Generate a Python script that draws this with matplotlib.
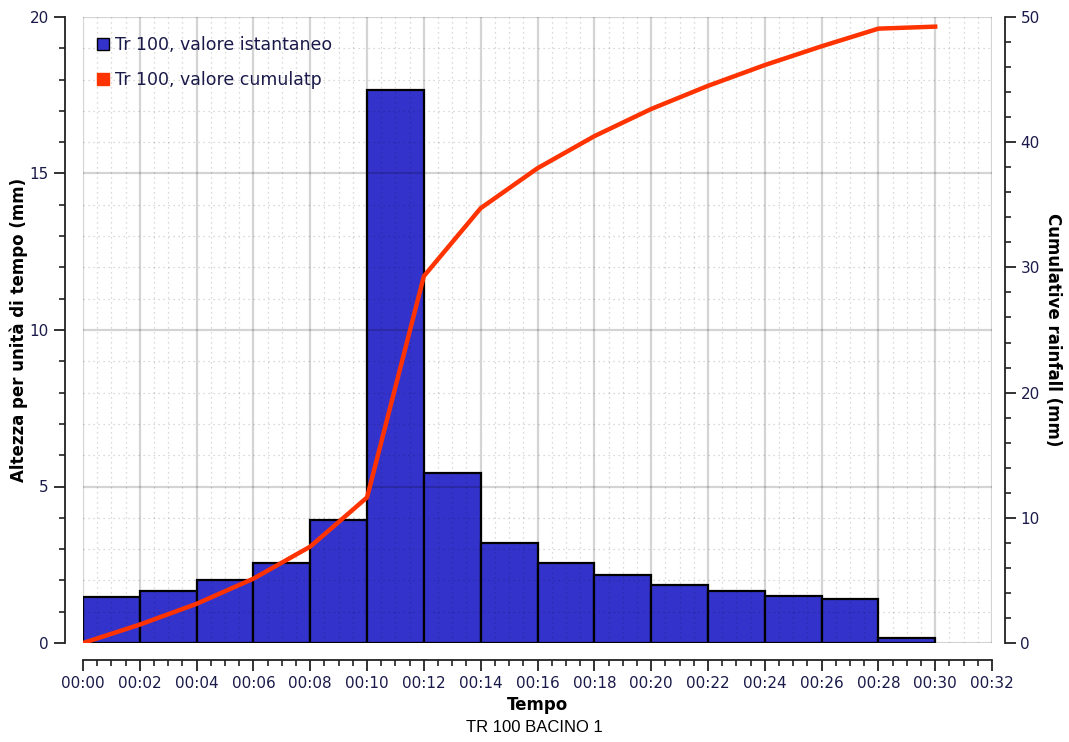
import matplotlib
matplotlib.use("Agg")
import matplotlib.pyplot as plt
from matplotlib.ticker import MultipleLocator, FuncFormatter
from matplotlib.lines import Line2D

# --- data ---
bar_starts = [0, 2, 4, 6, 8, 10, 12, 14, 16, 18, 20, 22, 24, 26, 28]
instant = [1.47, 1.66, 2.01, 2.56, 3.93, 17.67, 5.43, 3.19, 2.56, 2.17, 1.85, 1.66, 1.50, 1.41, 0.16]
cum_times = [0, 2, 4, 6, 8, 10, 12, 14, 16, 18, 20, 22, 24, 26, 28, 30]
cumulative = [0.0, 1.47, 3.13, 5.14, 7.70, 11.63, 29.30, 34.73, 37.92, 40.48, 42.65, 44.50, 46.16, 47.66, 49.07, 49.23]
label_instant = "Tr 100, valore istantaneo"
label_cum = "Tr 100, valore cumulatp"
title = "TR 100 BACINO 1"
xlabel = "Tempo"
ylabel_left = "Altezza per unità di tempo (mm)"
ylabel_right = "Cumulative rainfall (mm)"

bar_color = "#3333cc"
line_color = "#ff3300"

plt.rcParams['font.family'] = ['DejaVu Sans']

fig = plt.figure(figsize=(10.69, 7.42), dpi=100)
ax = fig.add_axes([83/1069, 1 - 643/742, (992 - 83)/1069, (643 - 17)/742])
ax2 = ax.twinx()

ax.bar(bar_starts, instant, width=2, align='edge', color=bar_color,
       edgecolor='black', linewidth=1.6, zorder=2)
ax2.plot(cum_times, cumulative, color=line_color, linewidth=3.2, zorder=3,
         solid_joinstyle='round')

ax.set_xlim(0, 32)
ax.set_ylim(0, 20)
ax2.set_ylim(0, 50)

ax.xaxis.set_major_locator(MultipleLocator(2))
ax.xaxis.set_minor_locator(MultipleLocator(0.5))
ax.xaxis.set_major_formatter(FuncFormatter(lambda v, p: f"00:{int(round(v)):02d}"))
ax.yaxis.set_major_locator(MultipleLocator(5))
ax.yaxis.set_minor_locator(MultipleLocator(1))
ax2.yaxis.set_major_locator(MultipleLocator(10))
ax2.yaxis.set_minor_locator(MultipleLocator(2))

ax.set_axisbelow(False)
ax.grid(which='major', color='black', alpha=0.17, linewidth=1.6, linestyle='-', zorder=2.5)
ax.grid(which='minor', color='black', alpha=0.2, linewidth=0.9, linestyle=(0, (1, 3)), zorder=2.5)

for s in ['top', 'right']:
    ax.spines[s].set_visible(False)
for s in ['top', 'left', 'bottom']:
    ax2.spines[s].set_visible(False)
ax.spines['left'].set_position(('outward', 13))
ax.spines['bottom'].set_position(('outward', 12))
ax2.spines['right'].set_position(('outward', 9))
for sp in [ax.spines['left'], ax.spines['bottom'], ax2.spines['right']]:
    sp.set_linewidth(1.3)
    sp.set_color('#222222')

ax.tick_params(which='major', direction='out', length=8, width=1.3, labelsize=11, colors='#222222')
ax.tick_params(which='minor', direction='out', length=4, width=1.2, colors='#222222')
ax2.tick_params(which='major', direction='out', length=8, width=1.3, labelsize=11, colors='#222222')
ax2.tick_params(which='minor', direction='out', length=4, width=1.2, colors='#222222')
for lab in ax.get_xticklabels() + ax.get_yticklabels() + ax2.get_yticklabels():
    lab.set_color('#1a1a4a')

ax.set_xlabel(xlabel, fontsize=12, fontweight='bold', labelpad=4)
ax.set_ylabel(ylabel_left, fontsize=12, fontweight='bold', labelpad=1)
ax2.set_ylabel(ylabel_right, fontsize=12, fontweight='bold', rotation=270, labelpad=16)

fig.text(0.5, 1 - 727/742, title, ha='center', va='center', fontsize=12,
         family=['Liberation Sans', 'DejaVu Sans'])

handles = [Line2D([], [], marker='s', linestyle='none', markersize=9,
                  markerfacecolor=bar_color, markeredgecolor='black', markeredgewidth=1.0),
           Line2D([], [], marker='s', linestyle='none', markersize=9,
                  markerfacecolor=line_color, markeredgecolor=line_color)]
leg = ax2.legend(handles, [label_instant, label_cum], loc='upper left',
                 bbox_to_anchor=(-0.007, 0.995), frameon=False, fontsize=12.5,
                 handletextpad=0.1, labelspacing=1.0, handlelength=1.2)
for t in leg.get_texts():
    t.set_color('#1a1a4a')

fig.savefig("out.png", dpi=100)
